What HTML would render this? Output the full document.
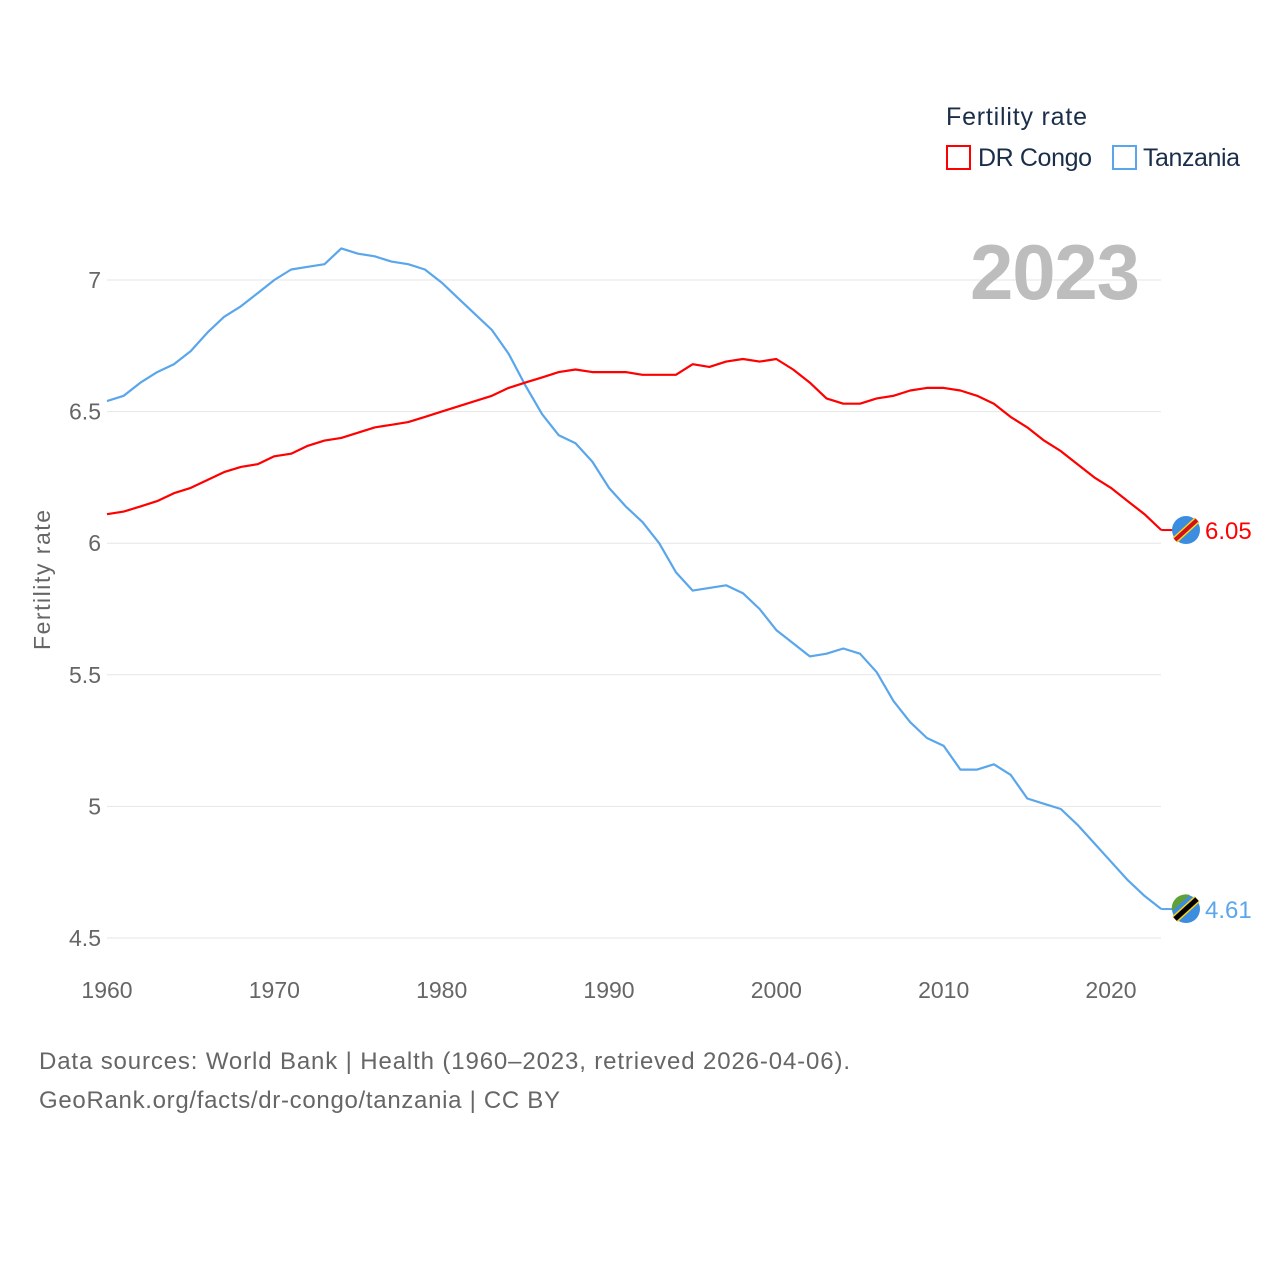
<!DOCTYPE html>
<html><head><meta charset="utf-8"><style>
body{margin:0;background:#fff;font-family:"Liberation Sans",sans-serif}
svg text{font-family:"Liberation Sans",sans-serif}
</style></head><body>
<svg id="c" width="1280" height="1280" xmlns="http://www.w3.org/2000/svg">
<rect width="1280" height="1280" fill="#fff"/>
<g id="grid"></g>
<g id="lines"></g>
<text x="1055" y="299" font-size="78" font-weight="bold" fill="#bdbdbd" text-anchor="middle" textLength="170">2023</text>
<text x="946" y="125" font-size="25" fill="#1a2e4a" textLength="141">Fertility rate</text>
<g><rect x="947" y="146" width="23" height="23" fill="none" stroke="#ff0000" stroke-width="2"/><text x="978" y="166" font-size="25" fill="#1a2e4a" textLength="114">DR Congo</text></g>
<g><rect x="1113" y="146" width="23" height="23" fill="none" stroke="#5aa6ec" stroke-width="2"/><text x="1143" y="166" font-size="25" fill="#1a2e4a" textLength="97">Tanzania</text></g>
<text transform="translate(50,580) rotate(-90)" font-size="23" fill="#666" text-anchor="middle" textLength="140">Fertility rate</text>
<text x="39" y="1069" font-size="24" fill="#666" textLength="811">Data sources: World Bank | Health (1960–2023, retrieved 2026-04-06).</text>
<text x="39" y="1108" font-size="24" fill="#666" textLength="521">GeoRank.org/facts/dr-congo/tanzania | CC BY</text>
</svg>
<script>
const years=[];for(let y=1960;y<=2023;y++)years.push(y);
const drCongo=[6.11,6.12,6.14,6.16,6.19,6.21,6.24,6.27,6.29,6.30,6.33,6.34,6.37,6.39,6.40,6.42,6.44,6.45,6.46,6.48,6.50,6.52,6.54,6.56,6.59,6.61,6.63,6.65,6.66,6.65,6.65,6.65,6.64,6.64,6.64,6.68,6.67,6.69,6.70,6.69,6.70,6.66,6.61,6.55,6.53,6.53,6.55,6.56,6.58,6.59,6.59,6.58,6.56,6.53,6.48,6.44,6.39,6.35,6.30,6.25,6.21,6.16,6.11,6.05];
const tanzania=[6.54,6.56,6.61,6.65,6.68,6.73,6.80,6.86,6.90,6.95,7.00,7.04,7.05,7.06,7.12,7.10,7.09,7.07,7.06,7.04,6.99,6.93,6.87,6.81,6.72,6.60,6.49,6.41,6.38,6.31,6.21,6.14,6.08,6.00,5.89,5.82,5.83,5.84,5.81,5.75,5.67,5.62,5.57,5.58,5.60,5.58,5.51,5.40,5.32,5.26,5.23,5.14,5.14,5.16,5.12,5.03,5.01,4.99,4.93,4.86,4.79,4.72,4.66,4.61];
const yTicks=[4.5,5,5.5,6,6.5,7];
const yTickLabels=["4.5","5","5.5","6","6.5","7"];
const xTicks=[1960,1970,1980,1990,2000,2010,2020];
const X=y=>107+(y-1960)*(1004/60);
const Y=v=>938-(v-4.5)*263.2;
const NS="http://www.w3.org/2000/svg";
const grid=document.getElementById('grid'),lines=document.getElementById('lines');
function mk(t,a,p){const e=document.createElementNS(NS,t);for(const k in a)e.setAttribute(k,a[k]);p.appendChild(e);return e;}
yTicks.forEach((v,i)=>{
 const l=mk('line',{x1:107,x2:1161,y1:Y(v),y2:Y(v),stroke:'#e6e6e6','stroke-width':1},grid);
 
 
 const t=mk('text',{x:101,y:Y(v)+8,'font-size':23,fill:'#666','text-anchor':'end'},grid);
 t.textContent=yTickLabels[i];
 
 
});
xTicks.forEach(v=>{
 const t=mk('text',{x:X(v),y:998,'font-size':23,fill:'#666','text-anchor':'middle'},grid);
 t.textContent=v;
 
 
});
function series(data,color,name){
 const d=data.map((v,i)=>(i?'L':'M')+X(years[i]).toFixed(1)+','+Y(v).toFixed(1)).join('');
 const p=mk('path',{d:d,fill:'none',stroke:color,'stroke-width':2.2,'stroke-linejoin':'round'},lines);
 
 
 const last=data[data.length-1],ly=Y(last),lx=X(2023);
 mk('line',{x1:lx,x2:lx+12,y1:ly,y2:ly,stroke:color,'stroke-width':2},lines);
 const c=mk('circle',{cx:1186,cy:ly,r:14,fill:'#3b8de0'},lines);
 
 
 if(name==='dr-congo'){mk('line',{x1:1175,y1:ly+10,x2:1197,y2:ly-10,stroke:'#f7d618','stroke-width':7},lines);mk('line',{x1:1175,y1:ly+10,x2:1197,y2:ly-10,stroke:'#ce1021','stroke-width':4},lines);}
 else{mk('path',{d:`M1172,${ly+2}A14,14 0 0 1 1190,${ly-14}Z`,fill:'#5fa03a'},lines);mk('line',{x1:1175,y1:ly+10,x2:1197,y2:ly-10,stroke:'#fcd116','stroke-width':8},lines);mk('line',{x1:1175,y1:ly+10,x2:1197,y2:ly-10,stroke:'#000','stroke-width':5},lines);}
 const t=mk('text',{x:1205,y:ly+9,'font-size':24,fill:color},lines);
 t.textContent=last.toFixed(2);
 
 
}
series(tanzania,'#5aa6ec','tanzania');
series(drCongo,'#ff0000','dr-congo');
</script>
</body></html>
